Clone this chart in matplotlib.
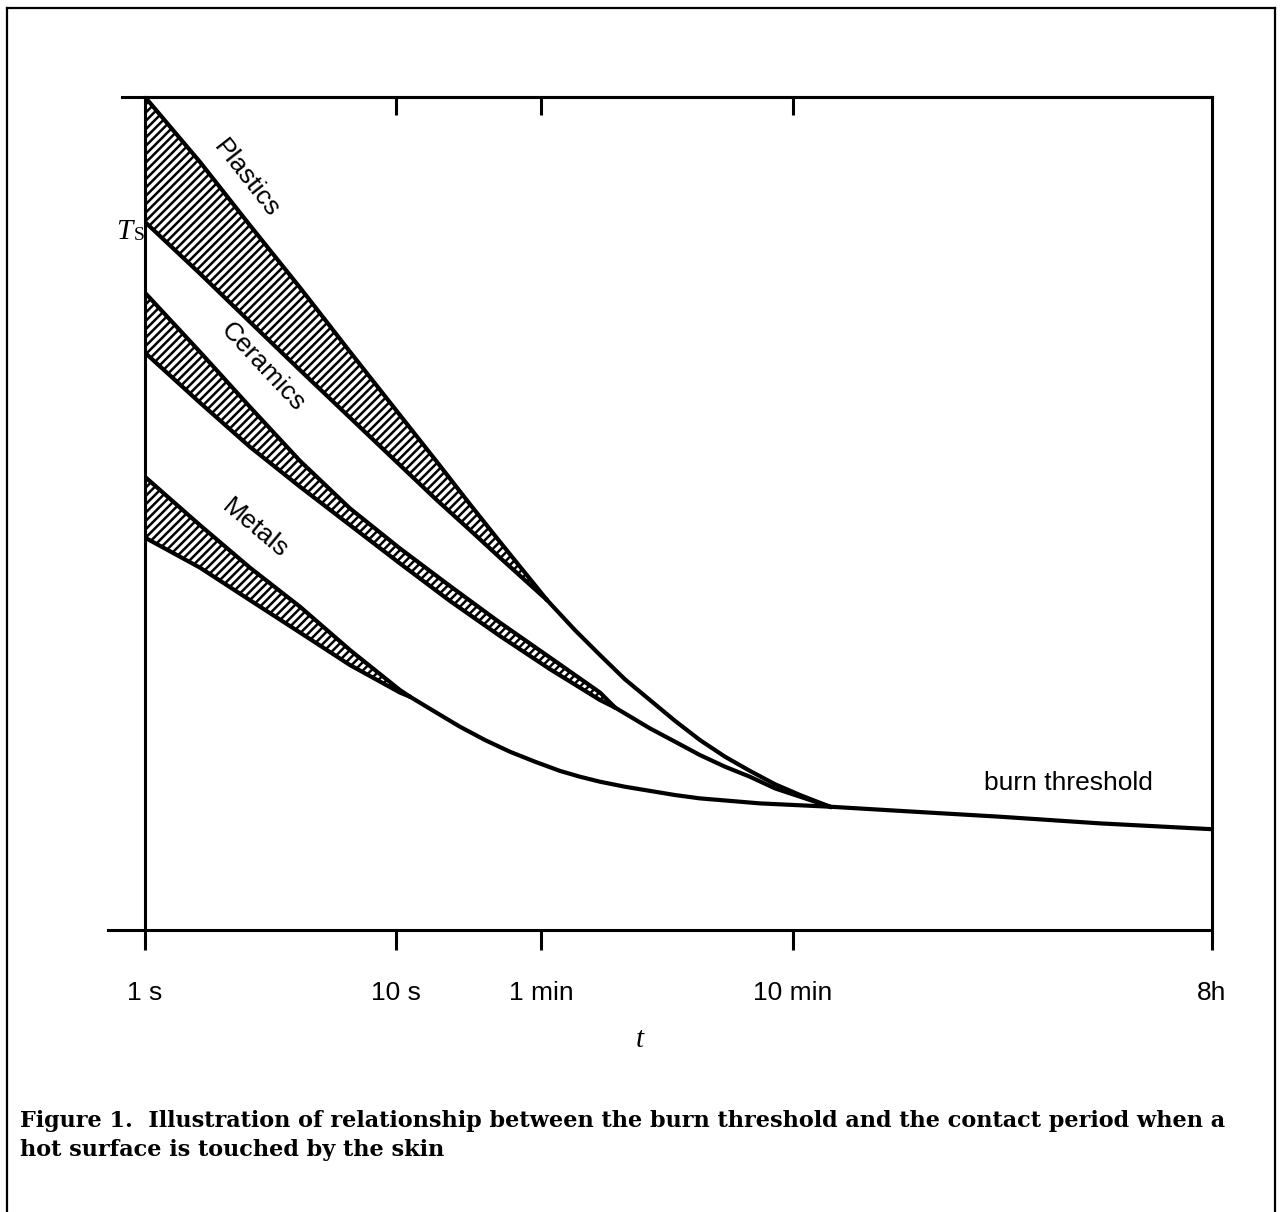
import numpy as np
import matplotlib
matplotlib.use('Agg')
import matplotlib.pyplot as plt
from matplotlib.lines import Line2D

plt.rcParams['hatch.linewidth'] = 1.8
plt.rcParams['hatch.color'] = 'black'

# x = position on the (log) contact-time axis, 1 unit = one decade from 1 s
# y = relative surface temperature Ts, 0..100
tick_pos = [0, 1.0, 1.578, 2.582, 4.251]
tick_lab = ['1 s', '10 s', '1 min', '10 min', '8h']

# plastics band
x_pl = [0, 0.219, 0.418, 0.618, 0.817, 1.016, 1.163, 1.295, 1.414, 1.602]
pl_hi = [100, 92.2, 84.6, 77.1, 69.4, 61.8, 56.2, 51.1, 46.6, 39.6]
pl_lo = [85.0, 78.8, 73.0, 67.2, 61.5, 55.8, 51.6, 48.0, 44.7, 39.6]
x_pl_tail = [1.602, 1.713, 1.813, 1.912, 2.012, 2.112, 2.211, 2.311, 2.410, 2.510, 2.610, 2.729]
pl_tail = [39.6, 36.0, 33.0, 30.1, 27.6, 25.1, 22.8, 20.8, 19.1, 17.5, 16.2, 14.8]

# ceramics band
x_ce = [0, 0.219, 0.418, 0.618, 0.817, 1.016, 1.215, 1.414, 1.614, 1.813, 1.873]
ce_hi = [76.5, 69.4, 62.8, 56.3, 50.6, 45.8, 41.3, 36.9, 32.7, 28.5, 26.7]
ce_lo = [69.3, 63.3, 58.0, 53.2, 48.6, 44.0, 39.5, 35.3, 31.3, 27.6, 26.7]
x_ce_tail = [1.873, 2.012, 2.112, 2.211, 2.311, 2.410, 2.510, 2.610, 2.729]
ce_tail = [26.7, 24.2, 22.6, 21.0, 19.6, 18.4, 17.0, 16.0, 14.8]

# metals band
x_me = [0, 0.219, 0.418, 0.618, 0.817, 1.016, 1.056]
me_hi = [54.4, 48.6, 43.5, 38.8, 33.6, 28.8, 28.0]
me_lo = [47.1, 43.5, 39.6, 35.7, 31.8, 28.5, 28.0]

# burn threshold
x_bt = [1.056, 1.155, 1.255, 1.355, 1.454, 1.554, 1.653, 1.733, 1.813, 1.912, 2.012,
        2.112, 2.211, 2.331, 2.450, 2.590, 2.729, 3.008, 3.406, 3.805, 4.251]
bt = [28.0, 26.2, 24.4, 22.8, 21.4, 20.2, 19.1, 18.4, 17.8, 17.2, 16.7,
      16.2, 15.8, 15.5, 15.2, 15.0, 14.8, 14.3, 13.6, 12.8, 12.1]

W, H = 1281, 1212
fig = plt.figure(figsize=(W/100, H/100), dpi=100)
ax = fig.add_axes([145/W, 1-930/H, (1212-145)/W, (930-97)/H])

lw = 3.0
for xs, hi, lo in [(x_pl, pl_hi, pl_lo), (x_ce, ce_hi, ce_lo), (x_me, me_hi, me_lo)]:
    ax.fill_between(xs, lo, hi, facecolor='white', edgecolor='black', hatch='////', linewidth=0)
    ax.plot(xs, hi, color='black', lw=lw, solid_joinstyle='round', solid_capstyle='round')
    ax.plot(xs, lo, color='black', lw=lw, solid_joinstyle='round', solid_capstyle='round')
ax.plot(x_pl_tail, pl_tail, color='black', lw=lw, solid_joinstyle='round')
ax.plot(x_ce_tail, ce_tail, color='black', lw=lw, solid_joinstyle='round')
ax.plot(x_bt, bt, color='black', lw=lw, solid_joinstyle='round', solid_capstyle='round')

ax.set_xlim(0, 4.251)
ax.set_ylim(0, 100)
for s in ax.spines.values():
    s.set_linewidth(2.2)
ax.set_yticks([])
ax.set_xticks(tick_pos)
ax.set_xticklabels(tick_lab, fontsize=19, family='Liberation Sans')
ax.tick_params(axis='x', direction='out', length=14.5, width=2.2, pad=22)

top = ax.secondary_xaxis('top')
top.set_xticks(tick_pos[1:4])
top.set_xticklabels([])
top.tick_params(direction='in', length=13, width=2.2)
top.spines['top'].set_linewidth(2.2)

# axis lines run a little past the left spine
ax.plot([-37/251, 0], [0, 0], color='black', lw=2.2, clip_on=False)
ax.plot([-23/251, 0], [100, 100], color='black', lw=2.2, clip_on=False)

# band labels
ax.text(0.405, 90.2, 'Plastics', rotation=-52, fontsize=19, family='Liberation Sans',
        ha='center', va='center', rotation_mode='anchor')
ax.text(0.47, 67.6, 'Ceramics', rotation=-47, fontsize=19, family='Liberation Sans',
        ha='center', va='center', rotation_mode='anchor')
ax.text(0.44, 48.2, 'Metals', rotation=-40, fontsize=19, family='Liberation Sans',
        ha='center', va='center', rotation_mode='anchor')
ax.text(3.68, 17.6, 'burn threshold', fontsize=19, family='Liberation Sans',
        ha='center', va='center')

# axis names
fig.text(124/W, 1-232/H, 'T', fontsize=21, family='Liberation Serif', style='italic',
         ha='center', va='center')
fig.text(139/W, 1-235/H, 'S', fontsize=14, family='Liberation Serif', ha='center', va='center')
fig.text(640/W, 1-1040/H, 't', fontsize=21, family='Liberation Serif', style='italic',
         ha='center', va='center')

# caption
cap1 = 'Figure 1.  Illustration of relationship between the burn threshold and the contact period when a'
cap2 = 'hot surface is touched by the skin'
fig.text(20/W, 1-1127/H, cap1, fontsize=16.15, family='DejaVu Serif', weight='bold', va='baseline')
fig.text(20/W, 1-1156/H, cap2, fontsize=16.15, family='DejaVu Serif', weight='bold', va='baseline')

# outer frame
fig.add_artist(Line2D([7/W, 7/W], [0, 1-8/H], color='black', lw=1.6))
fig.add_artist(Line2D([7/W, 1275/W], [1-8/H, 1-8/H], color='black', lw=1.6))
fig.add_artist(Line2D([1275/W, 1275/W], [0, 1-8/H], color='black', lw=1.6))

fig.savefig('out.png', dpi=100)
